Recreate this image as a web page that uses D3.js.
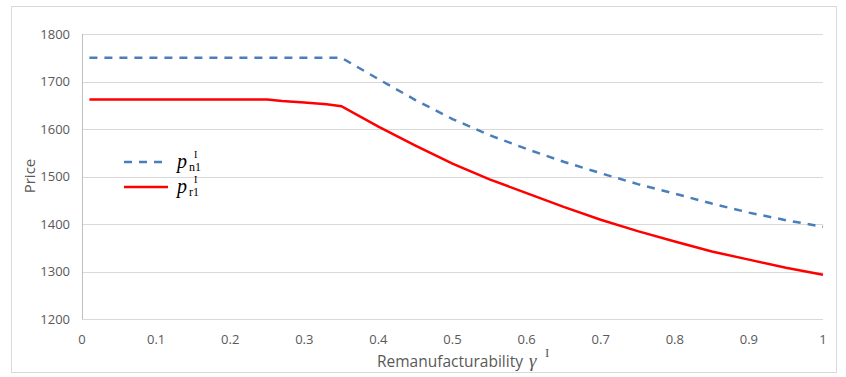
<!DOCTYPE html>
<html>
<head>
<meta charset="utf-8">
<script src="https://cdn.jsdelivr.net/npm/d3@7"></script>
<style>
  body { margin: 0; background: #fff; }
  .sans { font-family: "Open Sans", "Liberation Sans", sans-serif; }
  .serif { font-family: "Liberation Serif", "DejaVu Serif", serif; }
</style>
</head>
<body>
<div id="chart"></div>
<script>
var w = 846;
var h = 377;

// gamma values (x) and the two price series
var gamma = [0.01, 0.05, 0.10, 0.15, 0.20, 0.25, 0.27, 0.30, 0.33, 0.35,
             0.40, 0.45, 0.50, 0.55, 0.60, 0.65, 0.70, 0.75, 0.80, 0.85, 0.90, 0.95, 1.00];
var priceN = [1750, 1750, 1750, 1750, 1750, 1750, 1750, 1750, 1750, 1750,
              1705, 1661, 1621, 1587, 1558, 1531, 1507, 1484, 1464, 1443, 1424, 1408, 1394];
var priceR = [1662, 1662, 1662, 1662, 1662, 1662, 1659, 1656, 1652, 1648,
              1605, 1565, 1527, 1494, 1465, 1436, 1409, 1385, 1363, 1342, 1325, 1308, 1293];
var xTicks = [0, 0.1, 0.2, 0.3, 0.4, 0.5, 0.6, 0.7, 0.8, 0.9, 1];
var yTicks = [1200, 1300, 1400, 1500, 1600, 1700, 1800];

var svg = d3.select("#chart")
            .append("svg")
            .attr("width", w)
            .attr("height", h);

// outer chart border
svg.append("rect")
   .attr("x", 11.5).attr("y", 6.5)
   .attr("width", 825).attr("height", 366)
   .attr("fill", "#fff")
   .attr("stroke", "#d9d9d9");

var xScale = d3.scaleLinear().domain([0, 1]).range([82, 823]);
var yScale = d3.scaleLinear().domain([1200, 1800]).range([319, 34]);

// gridlines
svg.append("g")
   .selectAll("line")
   .data(yTicks)
   .enter()
   .append("line")
   .attr("x1", xScale(0)).attr("x2", xScale(1))
   .attr("y1", function(d) { return Math.round(yScale(d)) + 0.5; })
   .attr("y2", function(d) { return Math.round(yScale(d)) + 0.5; })
   .attr("stroke", "#d9d9d9")
   .attr("stroke-width", 1);

// left axis line
svg.append("line")
   .attr("x1", xScale(0) + 0.5).attr("x2", xScale(0) + 0.5)
   .attr("y1", yScale(1800)).attr("y2", yScale(1200))
   .attr("stroke", "#bfbfbf");

// y tick labels
svg.append("g")
   .selectAll("text")
   .data(yTicks)
   .enter()
   .append("text")
   .attr("class", "sans")
   .attr("x", 70)
   .attr("y", function(d) { return yScale(d) + 4.5; })
   .attr("text-anchor", "end")
   .attr("font-size", 13)
   .attr("fill", "#595959")
   .text(function(d) { return d; });

// x tick labels
svg.append("g")
   .selectAll("text")
   .data(xTicks)
   .enter()
   .append("text")
   .attr("class", "sans")
   .attr("x", function(d) { return xScale(d); })
   .attr("y", 344)
   .attr("text-anchor", "middle")
   .attr("font-size", 13)
   .attr("fill", "#595959")
   .text(function(d) { return d; });

// axis titles
svg.append("text")
   .attr("class", "sans")
   .attr("transform", "translate(35,176) rotate(-90)")
   .attr("text-anchor", "middle")
   .attr("font-size", 15)
   .attr("fill", "#595959")
   .text("Price");

svg.append("text")
   .attr("class", "sans")
   .attr("x", 377)
   .attr("y", 367)
   .attr("font-size", 15.5)
   .attr("fill", "#595959")
   .text("Remanufacturability");
svg.append("text")
   .attr("class", "serif")
   .attr("x", 529)
   .attr("y", 367)
   .attr("font-style", "italic")
   .attr("font-size", 19)
   .attr("fill", "#595959")
   .text("\u03B3");
svg.append("text")
   .attr("class", "serif")
   .attr("x", 545)
   .attr("y", 357)
   .attr("font-size", 13)
   .attr("fill", "#595959")
   .text("I");

// lines
var line = d3.line()
    .x(function(d) { return xScale(d[0]); })
    .y(function(d) { return yScale(d[1]); });

svg.append("path")
   .datum(d3.zip(gamma, priceN))
   .attr("d", line)
   .attr("fill", "none")
   .attr("stroke", "#4a7ebb")
   .attr("stroke-width", 2.5)
   .attr("stroke-dasharray", "8,7");

svg.append("path")
   .datum(d3.zip(gamma, priceR))
   .attr("d", line)
   .attr("fill", "none")
   .attr("stroke", "#ff0000")
   .attr("stroke-width", 2.5);

// legend
var legend = [
  { sub: "n1", color: "#4a7ebb", dash: "8,7", y: 162 },
  { sub: "r1", color: "#ff0000", dash: null, y: 187 }
];

legend.forEach(function(l) {
  svg.append("line")
     .attr("x1", 124).attr("x2", 168)
     .attr("y1", l.y).attr("y2", l.y)
     .attr("stroke", l.color)
     .attr("stroke-width", 2.5)
     .attr("stroke-dasharray", l.dash);
  svg.append("text")
     .attr("class", "serif")
     .attr("x", 177).attr("y", l.y + 6)
     .attr("font-style", "italic")
     .attr("font-size", 20)
     .attr("fill", "#000")
     .text("p");
  svg.append("text")
     .attr("class", "serif")
     .attr("x", 189).attr("y", l.y + 9)
     .attr("font-size", 12)
     .attr("fill", "#000")
     .text(l.sub);
  svg.append("text")
     .attr("class", "serif")
     .attr("x", 194).attr("y", l.y - 4)
     .attr("font-size", 10)
     .attr("fill", "#000")
     .text("I");
});
</script>
</body>
</html>
